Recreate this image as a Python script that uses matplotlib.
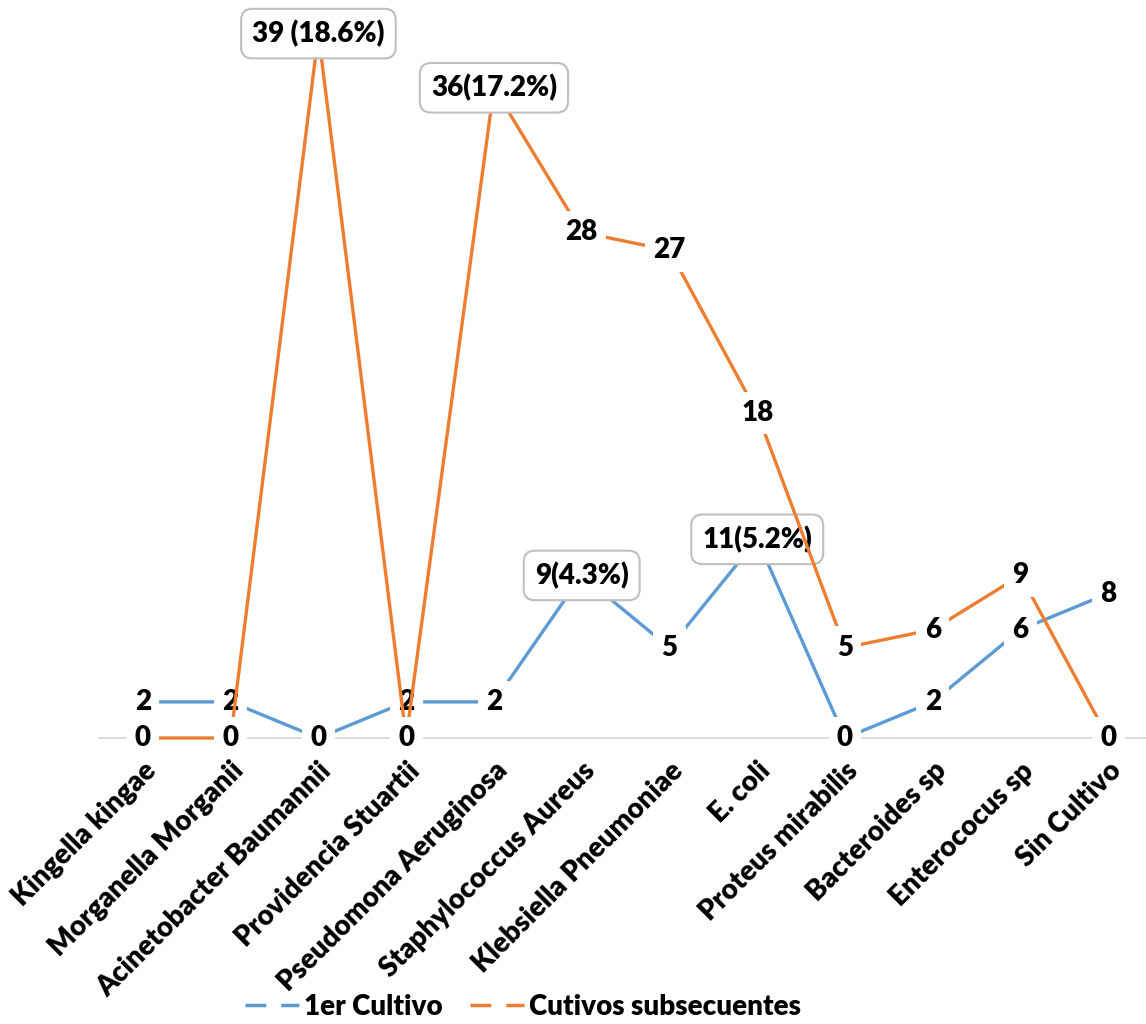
import matplotlib.pyplot as plt
from matplotlib.lines import Line2D

plt.rcParams['font.family'] = ['Lato', 'DejaVu Sans']
plt.rcParams['font.weight'] = 'bold'

# organisms on the x axis
organismos = ["Kingella kingae", "Morganella Morganii", "Acinetobacter Baumannii",
              "Providencia Stuartii", "Pseudomona Aeruginosa", "Staphylococcus Aureus",
              "Klebsiella Pneumoniae", "E. coli", "Proteus mirabilis", "Bacteroides sp",
              "Enterococus sp", "Sin Cultivo"]

primer_cultivo = [2, 2, 0, 2, 2, 9, 5, 11, 0, 2, 6, 8]
cultivos_subsecuentes = [0, 0, 39, 0, 36, 28, 27, 18, 5, 6, 9, 0]

# points whose label also carries the percentage
primer_destacados = {5: "9(4.3%)", 7: "11(5.2%)"}
subsecuentes_destacados = {2: "39 (18.6%)", 4: "36(17.2%)"}

AZUL = "#5B9BD5"
NARANJA = "#ED7D31"
FS = 20

fig = plt.figure(figsize=(11.46, 10.24), dpi=100)
ax = fig.add_axes([99 / 1146, 1 - 738 / 1024, 1047 / 1146, 738 / 1024])
x = list(range(len(organismos)))


def etiquetas(valores, destacados, z):
    for i, v in enumerate(valores):
        if i in destacados:
            ax.annotate(destacados[i], (i, v), ha="center", va="center",
                        fontsize=FS, fontweight="heavy", zorder=z, annotation_clip=False,
                        bbox=dict(boxstyle="round,pad=0.4,rounding_size=0.4",
                                  fc="white", ec="#BFBFBF", lw=1.5))
        else:
            ax.annotate(str(v), (i, v), ha="center", va="center",
                        fontsize=FS, fontweight="heavy", zorder=z, annotation_clip=False,
                        bbox=dict(boxstyle="square,pad=0.3", fc="white", ec="none"))


# each series is drawn with its own labels, the second one on top
ax.plot(x, primer_cultivo, color=AZUL, lw=2.4, zorder=2,
        solid_capstyle="butt", clip_on=False)
etiquetas(primer_cultivo, primer_destacados, 3)
ax.plot(x, cultivos_subsecuentes, color=NARANJA, lw=2.4, zorder=4,
        solid_capstyle="butt", clip_on=False)
etiquetas(cultivos_subsecuentes, subsecuentes_destacados, 5)

ax.set_xlim(-0.5, 11.43)
ax.set_ylim(0, 40.86)
for s in ["top", "right", "left"]:
    ax.spines[s].set_visible(False)
ax.spines["bottom"].set_color("#D9D9D9")
ax.spines["bottom"].set_linewidth(1.3)
ax.spines["bottom"].set_zorder(1)
ax.set_yticks([])
ax.set_xticks(x)
ax.set_xticklabels(organismos, rotation=45, ha="right", va="top",
                   rotation_mode="anchor", fontsize=FS, fontweight="heavy")
ax.tick_params(axis="x", length=0, pad=14)

handles = [Line2D([0], [0], color=AZUL, lw=2.5, dashes=(6, 4.3)),
           Line2D([0], [0], color=NARANJA, lw=2.5, dashes=(6, 4.3))]
fig.legend(handles, ["1er Cultivo", "Cutivos subsecuentes"], loc="center",
           bbox_to_anchor=(523 / 1146, 1 - 1007 / 1024), ncol=2, frameon=False,
           handlelength=1.95, handletextpad=0.18, columnspacing=1.0,
           borderpad=0, prop={"weight": "heavy", "size": FS})

fig.savefig("out.png", dpi=100)
